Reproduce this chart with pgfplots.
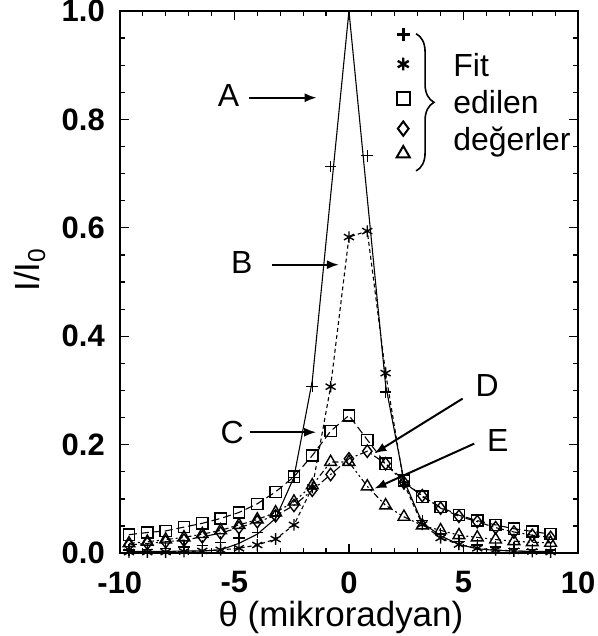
\documentclass[border=0pt]{standalone}
\usepackage{fontspec}
\setmainfont{Liberation Sans}
\usepackage{pgfplots}
\usepackage{pgfplotstable}
\pgfplotsset{compat=1.18}
\usetikzlibrary{arrows.meta,decorations.pathreplacing}

% Am = + marks (A), Al = solid curve A, B/C/D/E = marks and curves
\pgfplotstableread{
x     Am    Al    B     C     D     E
-9.6  0.006 0.003 0.002 0.034 0.015 0.018
-8.8  0.007 0.003 0.002 0.038 0.018 0.021
-8.0  0.009 0.003 0.002 0.041 0.021 0.025
-7.2  0.011 0.004 0.003 0.048 0.024 0.029
-6.4  0.014 0.004 0.004 0.055 0.030 0.035
-5.6  0.020 0.006 0.006 0.064 0.037 0.042
-4.8  0.028 0.018 0.009 0.075 0.047 0.052
-4.0  0.038 0.035 0.015 0.091 0.058 0.062
-3.2  0.068 0.064 0.026 0.113 0.069 0.075
-2.4  0.140 0.140 0.052 0.141 0.088 0.095
-1.6  0.307 0.318 0.121 0.180 0.116 0.125
-0.8  0.713 nan   0.307 0.225 0.145 0.168
0.0   nan   1.000 0.583 0.254 0.174 0.168
0.8   0.733 nan   0.594 0.209 0.188 0.123
1.6   0.297 0.310 0.332 0.165 0.165 0.088
2.4   0.130 0.134 0.128 0.134 0.130 0.067
3.2   0.060 0.056 0.053 0.104 0.106 0.051
4.0   0.035 0.032 0.028 0.085 0.083 0.042
4.8   0.022 0.016 0.016 0.070 0.068 0.033
5.6   0.015 0.008 0.009 0.060 0.058 0.029
6.4   0.011 0.005 0.006 0.052 0.047 0.025
7.2   0.009 0.004 0.004 0.045 0.039 0.022
8.0   0.007 0.003 0.003 0.040 0.033 0.020
8.8   0.006 0.003 0.002 0.035 0.029 0.019
}\data

\tikzset{lbl/.style={font=\fontsize{16}{19}\selectfont},
  arr/.style={-{Latex[length=6pt,width=4.5pt]}, line width=1pt}}

\begin{document}
\begin{tikzpicture}[font=\fontsize{16}{19}\selectfont]
\begin{axis}[
  scale only axis, width=229.5pt, height=271.5pt,
  xmin=-10, xmax=10, ymin=0, ymax=1,
  xtick={-10,-5,0,5,10}, xticklabels={-10,-5,0,5,10},
  ytick={0,0.2,0.4,0.6,0.8,1}, yticklabels={0.0,0.2,0.4,0.6,0.8,1.0},
  minor x tick num=4, minor y tick num=3,
  tick align=inside, major tick length=4.5pt, minor tick length=2.5pt,
  axis line style={line width=0.75pt},
  tick style={line width=0.6pt, black},
  ticklabel style={font=\fontsize{15.5}{18}\selectfont\bfseries},
  xticklabel style={inner sep=0pt, yshift=-9pt},
  yticklabel style={xshift=-4pt},
  xlabel={θ (mikroradyan)},
  ylabel={I/I\textsubscript{0}},
  label style={font=\fontsize{17.5}{21}\selectfont},
  xlabel style={inner sep=0pt, at={([xshift=-4pt,yshift=-36.5pt]axis description cs:0.5,0)}, anchor=base},
  ylabel style={at={([xshift=-40pt]axis description cs:0,0.523)}, anchor=base},
]
% curves
\addplot[black, no marks, line width=0.55pt] table[x=x,y=Al]{\data};
\addplot[black, no marks, line width=0.55pt, dash pattern=on 2pt off 1.5pt] table[x=x,y=B]{\data};
\addplot[black, no marks, line width=0.55pt, dash pattern=on 4pt off 2pt] table[x=x,y=C]{\data};
\addplot[black, no marks, line width=0.55pt, dash pattern=on 4pt off 1.5pt on 1pt off 1.5pt] table[x=x,y=D]{\data};
\addplot[black, no marks, line width=0.55pt, dash pattern=on 3pt off 1.5pt on 1pt off 1.5pt on 1pt off 1.5pt] table[x=x,y=E]{\data};
% fitted values
\addplot[black, only marks, mark=+, mark size=2.9pt, line width=0.7pt] table[x=x,y=Am]{\data};
\addplot[black, only marks, mark=asterisk, mark size=2.9pt, line width=0.7pt] table[x=x,y=B]{\data};
\addplot[black, only marks, mark=square, mark size=2.8pt, line width=0.7pt] table[x=x,y=C]{\data};
\addplot[black, only marks, mark=diamond, mark size=3.1pt, line width=0.7pt] table[x=x,y=D]{\data};
\addplot[black, only marks, mark=triangle, mark size=3.4pt, line width=0.7pt] table[x=x,y=E]{\data};
% key marks
\addplot[black, only marks, mark=+, mark size=3.2pt, line width=1.5pt] coordinates {(2.37,0.957)};
\addplot[black, only marks, mark=asterisk, mark size=3.2pt, line width=1.2pt] coordinates {(2.37,0.902)};
\addplot[black, only marks, mark=square, mark size=3.3pt, line width=1pt] coordinates {(2.37,0.838)};
\addplot[black, only marks, mark=diamond, mark size=3.6pt, line width=1pt] coordinates {(2.37,0.783)};
\addplot[black, only marks, mark=triangle, mark size=3.8pt, line width=1pt] coordinates {(2.37,0.737)};
\draw[decorate, decoration={brace, amplitude=9pt}, line width=0.8pt] (2.93,0.958) -- (2.93,0.705);
\node[lbl, anchor=base west] at (4.25,0.880) {Fit};
\node[lbl, anchor=base west] at (4.25,0.810) {edilen};
\node[lbl, anchor=base west] at (4.25,0.742) {değerler};
% curve labels
\node[lbl] at (-5.25,0.845) {A};
\draw[arr] (-4.36,0.84) -- (-1.41,0.84);
\node[lbl] at (-4.68,0.536) {B};
\draw[arr] (-3.35,0.532) -- (-0.44,0.532);
\node[lbl] at (-5.1,0.223) {C};
\draw[arr] (-4.34,0.223) -- (-1.43,0.223);
\node[lbl] at (6.03,0.309) {D};
\draw[arr] (4.96,0.285) -- (1.11,0.184);
\node[lbl] at (6.49,0.208) {E};
\draw[arr] (5.47,0.202) -- (1.11,0.119);
\end{axis}
\pgfresetboundingbox
\useasboundingbox ([xshift=-60pt,yshift=-41.5pt]current axis.south west) rectangle ([xshift=9.5pt,yshift=5.5pt]current axis.north east);
\end{tikzpicture}
\end{document}
